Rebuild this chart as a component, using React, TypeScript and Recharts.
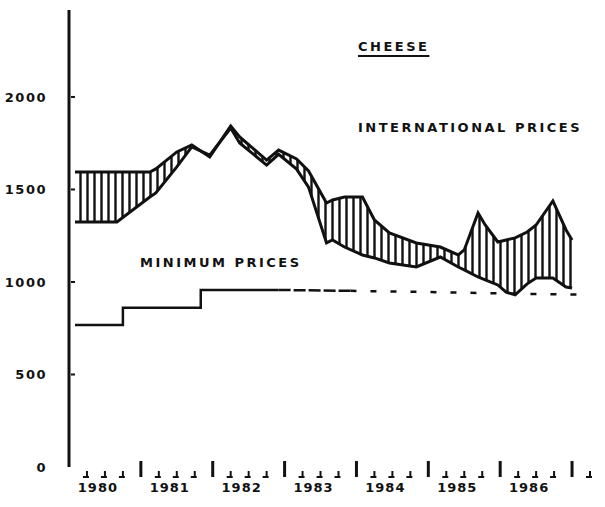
import React from 'react';
import { ComposedChart, Area, Line, XAxis, YAxis } from 'recharts';

// x values are months counted from January 1980
const bandMonths = [1, 8, 13.5, 14.5, 18, 20.5, 23.5, 27, 28.5, 33, 35, 38, 40, 43, 44, 46, 49, 51, 53.5, 58, 62, 65, 66, 68.3, 69.5, 71.6, 73, 74.5, 76.5, 78, 80.8, 83, 84];
const lowPrices = [1324, 1324, 1459, 1481, 1622, 1730, 1686, 1832, 1751, 1632, 1690, 1610, 1513, 1211, 1227, 1189, 1146, 1130, 1103, 1081, 1135, 1081, 1065, 1027, 1011, 984, 945, 930, 990, 1022, 1022, 973, 967];
const highPrices = [1594, 1594, 1594, 1611, 1703, 1740, 1676, 1843, 1784, 1659, 1713, 1665, 1600, 1427, 1443, 1459, 1459, 1335, 1265, 1211, 1189, 1146, 1173, 1373, 1308, 1216, 1227, 1238, 1270, 1308, 1438, 1281, 1227];

// minimum prices: stepped part, then the dashed tail
const minStepMonths = [1, 9, 22, 35];
const minStepPrices = [767, 861, 957, 957];
const minDenseMonths = [35, 47];
const minDensePrices = [957, 952];
const minSparseMonths = [47, 60, 72, 85];
const minSparsePrices = [952, 946, 938, 932];

const years = ['1980', '1981', '1982', '1983', '1984', '1985', '1986'];
const yTicks = [0, 500, 1000, 1500, 2000];
const quarterTicks = Array.from({ length: 29 }, (_, i) => 3 + i * 3);

const bandData = bandMonths.map((m, i) => ({
  m,
  low: lowPrices[i],
  high: highPrices[i],
  band: [lowPrices[i], highPrices[i]],
}));

const toRows = (ms: number[], vs: number[]) => ms.map((m, i) => ({ m, v: vs[i] }));

const INK = '#111';
const FONT = '"DejaVu Sans", sans-serif';

const XTick = (props: any) => {
  const { x, y, payload } = props;
  const m = payload.value;
  const isYear = m % 12 === 0;
  const yi = (m - 6) / 12;
  return (
    <g>
      <line x1={x} x2={x} y1={isYear ? y - 6 : y + 4} y2={y + 10} stroke={INK} strokeWidth={isYear ? 3 : 2} />
      {!isYear && <line x1={x - 4} x2={x + 2} y1={y + 10} y2={y + 10} stroke={INK} strokeWidth={2} />}
      {Number.isInteger(yi) && yi < years.length && (
        <text x={x - 7} y={y + 25} textAnchor="middle" fontFamily={FONT} fontWeight="bold" fontSize={13} letterSpacing={1} fill={INK}>
          {years[yi]}
        </text>
      )}
    </g>
  );
};

const YTick = (props: any) => {
  const { x, y, payload } = props;
  return (
    <g>
      <text x={x - 22} y={y + 5} textAnchor="end" fontFamily={FONT} fontWeight="bold" fontSize={13} letterSpacing={1.5} fill={INK}>
        {payload.value}
      </text>
      {payload.value > 0 && <line x1={x + 2} x2={x + 6} y1={y} y2={y} stroke={INK} strokeWidth={2} />}
    </g>
  );
};

const labelStyle: React.CSSProperties = {
  position: 'absolute',
  fontFamily: FONT,
  fontWeight: 'bold',
  fontSize: 13,
  lineHeight: '14px',
  letterSpacing: 2.5,
  color: INK,
  whiteSpace: 'nowrap',
};

const App = () => {
  return (
    <div style={{ position: 'absolute', left: 0, top: 0, width: 605, height: 507, background: '#fff' }}>
      <svg width={0} height={0} style={{ position: 'absolute' }}>
        <defs>
          <pattern id="hatch" patternUnits="userSpaceOnUse" width={7} height={8}>
            <line x1={3.5} y1={0} x2={3.5} y2={8} stroke={INK} strokeWidth={2.4} />
          </pattern>
        </defs>
      </svg>
      <ComposedChart width={605} height={507} data={bandData} margin={{ top: 10, right: 9, bottom: 10, left: 8 }}>
        <XAxis
          type="number"
          dataKey="m"
          domain={[0, 88]}
          ticks={quarterTicks}
          interval={0}
          allowDataOverflow
          axisLine={false}
          tickLine={false}
          tickSize={0}
          tickMargin={0}
          height={30}
          tick={<XTick />}
        />
        <YAxis
          type="number"
          domain={[0, 2470]}
          ticks={yTicks}
          interval={0}
          allowDataOverflow
          width={61}
          axisLine={{ stroke: INK, strokeWidth: 3 }}
          tickLine={false}
          tickSize={0}
          tickMargin={0}
          tick={<YTick />}
        />
        <Area dataKey="band" type="linear" stroke="none" fill="url(#hatch)" fillOpacity={1} isAnimationActive={false} />
        <Line dataKey="high" type="linear" stroke={INK} strokeWidth={3} dot={false} isAnimationActive={false} />
        <Line dataKey="low" type="linear" stroke={INK} strokeWidth={3} dot={false} isAnimationActive={false} />
        <Line data={toRows(minStepMonths, minStepPrices)} dataKey="v" type="stepAfter" stroke={INK} strokeWidth={2.5} dot={false} isAnimationActive={false} />
        <Line data={toRows(minDenseMonths, minDensePrices)} dataKey="v" type="linear" stroke={INK} strokeWidth={2.5} strokeDasharray="12 3" dot={false} isAnimationActive={false} />
        <Line data={toRows(minSparseMonths, minSparsePrices)} dataKey="v" type="linear" stroke={INK} strokeWidth={2.5} strokeDasharray="6 14" dot={false} isAnimationActive={false} />
      </ComposedChart>
      <div style={{ ...labelStyle, left: 358, top: 40, textDecoration: 'underline', textDecorationThickness: 2, textUnderlineOffset: 4 }}>CHEESE</div>
      <div style={{ ...labelStyle, left: 358, top: 121 }}>INTERNATIONAL PRICES</div>
      <div style={{ ...labelStyle, left: 140, top: 256 }}>MINIMUM PRICES</div>
    </div>
  );
};

export default App;
